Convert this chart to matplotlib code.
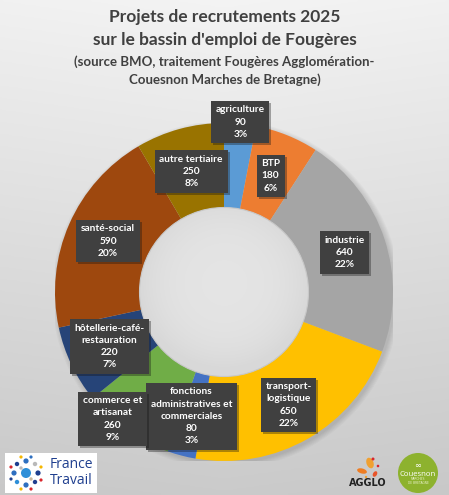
import numpy as np
import matplotlib
matplotlib.use("Agg")
import matplotlib.pyplot as plt
from matplotlib.patches import Circle, Rectangle, Ellipse
import matplotlib.patheffects as pe

# ---------------- data ----------------
categories = ["agriculture", "BTP", "industrie", "transport-\nlogistique",
              "fonctions\nadministratives et\ncommerciales", "commerce et\nartisanat",
              "hôtellerie-café-\nrestauration", "santé-social", "autre tertiaire"]
values = [90, 180, 640, 650, 80, 260, 220, 590, 250]
colors = ["#5B9BD5", "#ED7D31", "#A5A5A5", "#FFC000", "#4472C4",
          "#70AD47", "#264478", "#9E480E", "#997300"]
title_lines = ["Projets de recrutements 2025", "sur le bassin d'emploi de Fougères"]
subtitle_lines = ["(source BMO, traitement Fougères Agglomération-",
                  "Couesnon Marches de Bretagne)"]

# label placement (fraction of outer radius, angular tweak in degrees)
label_r = [1.01, 0.74, 0.75, 0.77, 0.76, 1.0, 0.75, 0.75, 0.74]
label_da = [0, 0, 0, 0, 0, -6, 0, 0, 0]

FONT = ["Lato", "DejaVu Sans"]
plt.rcParams['font.family'] = FONT

W, H = 449, 495
fig = plt.figure(figsize=(W / 100, H / 100), dpi=100)

# background gradient
bg = fig.add_axes([0, 0, 1, 1])
bg.set_xlim(0, W)
bg.set_ylim(H, 0)
bg.axis('off')
yy = np.linspace(0, 1, 200)[:, None]
xx = np.linspace(0, 1, 200)[None, :]
g = 0.955 - 0.16 * yy - 0.02 * np.abs(xx - 0.5)
bg.imshow(np.dstack([g, g, g]), extent=[0, W, H, 0], aspect='auto', zorder=0)

# titles
fs_t = 12.5
fs_s = 9.5
bg.text(W / 2, 17, title_lines[0], ha='center', va='center', fontsize=fs_t,
        fontweight='bold', color='#404040')
bg.text(W / 2, 40, title_lines[1], ha='center', va='center', fontsize=fs_t,
        fontweight='bold', color='#404040')
bg.text(W / 2, 62, subtitle_lines[0], ha='center', va='center', fontsize=fs_s,
        fontweight='bold', color='#404040')
bg.text(W / 2, 80, subtitle_lines[1], ha='center', va='center', fontsize=fs_s,
        fontweight='bold', color='#404040')

# ---------------- donut ----------------
cx, cy, R = 224, 292, 169
ax = fig.add_axes([(cx - R) / W, (H - cy - R) / H, 2 * R / W, 2 * R / H])
ax.set_xlim(-1, 1)
ax.set_ylim(-1, 1)
ax.axis('off')

# soft shadow of ring
for k in range(6):
    ax.add_patch(Circle((0.012, -0.015), 1.0 + 0.006 * k, color='black',
                        alpha=0.025, zorder=0, lw=0))

wedges, _ = ax.pie(values, colors=colors, startangle=90, counterclock=False,
                   radius=1.0, wedgeprops=dict(width=0.5, linewidth=0))
for w in wedges:
    w.set_zorder(1)

# hole with subtle gradient
n = 300
gx, gy = np.meshgrid(np.linspace(-0.5, 0.5, n), np.linspace(0.5, -0.5, n))
d = np.sqrt((gx - 0.0) ** 2 + (gy - 0.05) ** 2) / 0.5
hv = 0.895 - 0.045 * np.clip(d, 0, 1) ** 3
hole_img = ax.imshow(np.dstack([hv, hv, hv]), extent=[-0.5, 0.5, -0.5, 0.5], zorder=2)
clip = Circle((0, 0), 0.5, transform=ax.transData)
hole_img.set_clip_path(clip)
ax.add_patch(Circle((0, 0), 0.5, fill=False, ec='#c8c8c8', lw=0.8, zorder=3))
ax.set_xlim(-1, 1)
ax.set_ylim(-1, 1)

# labels
total = sum(values)
cum = 0
for i, (cat, v) in enumerate(zip(categories, values)):
    mid = cum + v / 2
    cum += v
    ang = np.deg2rad(90 - 360 * mid / total + label_da[i])
    x = label_r[i] * np.cos(ang)
    y = label_r[i] * np.sin(ang)
    pct = round(100 * v / total)
    t = ax.text(x, y, f"{cat}\n{v}\n{pct}%", ha='center', va='center',
                multialignment='center', color='white', fontsize=7.3,
                fontweight='bold', linespacing=1.45, zorder=10, clip_on=False,
                bbox=dict(boxstyle='square,pad=0.45', fc='#404040', ec='none'))
    t.get_bbox_patch().set_path_effects([
        pe.SimplePatchShadow(offset=(1.5, -1.5), alpha=0.35), pe.Normal()])

# ---------------- logos ----------------
lg = fig.add_axes([0, 0, 1, 1])
lg.set_xlim(0, W)
lg.set_ylim(H, 0)
lg.axis('off')
lg.patch.set_alpha(0)

lg.add_patch(Rectangle((5, 453), 92, 40, fc='white', ec='none', zorder=1))
dots = [(26, 473, 5.0, '#2E8FD8'),
        (26, 461, 2.6, '#2E6FC0'), (26, 485, 2.6, '#2E6FC0'),
        (14, 473, 2.6, '#2E6FC0'), (38, 473, 2.6, '#1F3F8F'),
        (17, 464, 2.2, '#1F3F8F'), (35, 464, 2.2, '#B9B9B9'),
        (17, 482, 2.2, '#2E8FD8'), (35, 482, 2.2, '#1F3F8F'),
        (21, 457, 1.6, '#F5B700'), (31, 457, 1.6, '#2E6FC0'),
        (11, 467, 1.6, '#D9262C'), (41, 467, 1.6, '#F5B700'),
        (11, 479, 1.6, '#1F3F8F'), (41, 480, 1.6, '#D9262C'),
        (21, 489, 1.6, '#F5B700'), (31, 489, 1.6, '#D9262C'),
        (21, 468, 1.7, '#B9B9B9'), (31, 479, 1.7, '#C9B9A0')]
for (dx, dy, r, c) in dots:
    lg.add_patch(Circle((dx, dy), r, fc=c, ec='none', zorder=2))
lg.text(50, 464, "France", fontsize=10, color='#1F3F8F', va='center', ha='left',
        family=["Open Sans", "DejaVu Sans"], zorder=3)
lg.text(50, 481, "Travail", fontsize=10, color='#1F3F8F', va='center', ha='left',
        family=["Open Sans", "DejaVu Sans"], zorder=3)

# AGGLO logo
lg.add_patch(Ellipse((370, 463), 7, 11, angle=-20, fc='#F0A030', ec='none'))
lg.add_patch(Ellipse((362, 471), 10, 5, angle=15, fc='#EE7D22', ec='none'))
lg.add_patch(Ellipse((375, 474), 4, 6, angle=30, fc='#E8542A', ec='none'))
lg.add_patch(Circle((373, 459), 1.5, fc='#D9262C', ec='none'))
lg.add_patch(Circle((378, 466), 1.3, fc='#D9262C', ec='none'))
lg.add_patch(Circle((366, 477), 1.2, fc='#F0A030', ec='none'))
lg.text(368, 483, "AGGLO", fontsize=7, color='#222222', ha='center', va='center',
        fontweight='bold', family=["DejaVu Sans"])

# Couesnon logo
lg.add_patch(Circle((418, 473), 20, fc='#8DB22E', ec='none'))
lg.text(418, 465, "∞", fontsize=6, color='white', ha='center', va='center',
        family=["DejaVu Sans"])
lg.text(418, 474, "Couesnon", fontsize=5.6, color='white', ha='center', va='center',
        family=["Open Sans", "DejaVu Sans"])
lg.text(418, 481, "MARCHES\nDE BRETAGNE", fontsize=2.2, color='#E8F0C8', ha='center',
        va='center', linespacing=1.1, family=["DejaVu Sans"])

fig.savefig("out.png", dpi=100)
